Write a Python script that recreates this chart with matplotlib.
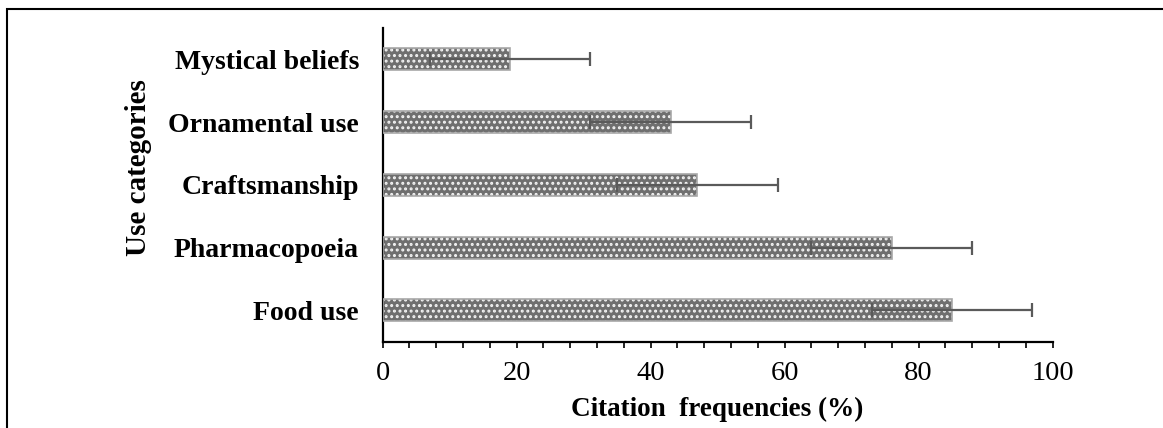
import matplotlib
matplotlib.use('Agg')
import matplotlib.pyplot as plt
from matplotlib.patches import Rectangle
import numpy as np

# data
categories = ['Food use', 'Pharmacopoeia', 'Craftsmanship', 'Ornamental use', 'Mystical beliefs']
freq = [85, 76, 47, 43, 19]
err = [12, 12, 12, 12, 12]

plt.rcParams['font.family'] = ['Liberation Serif', 'DejaVu Serif']
plt.rcParams['hatch.linewidth'] = 1.4

fig = plt.figure(figsize=(11.63, 4.28), dpi=100)
ax = fig.add_axes([0.329, 0.2017, 0.576, 0.733])

y = np.arange(len(categories))
ax.barh(y, freq, height=0.35, color='#6f6f6f', edgecolor='#f4f4f4', hatch='...',
        linewidth=0, zorder=2)
ax.barh(y, freq, height=0.35, facecolor='none', edgecolor='#a8a8a8', linewidth=1.2, zorder=3)
ax.errorbar(freq, y, xerr=err, fmt='none', ecolor='#5a5a5a', elinewidth=1.6,
            capsize=5, capthick=1.6, zorder=4)

ax.set_xlim(0, 100)
ax.set_ylim(-0.5, 4.5)
ax.set_xticks(np.arange(0, 101, 20))
ax.set_xticks(np.arange(0, 101, 4), minor=True)
ax.tick_params(axis='x', which='both', direction='out', length=4, width=1.2,
               labelsize=20.5, pad=10)
ax.set_yticks(y)
ax.set_yticklabels(categories, fontsize=20, fontweight='bold')
ax.tick_params(axis='y', length=0, pad=17)

for s in ['top', 'right']:
    ax.spines[s].set_visible(False)
ax.spines['left'].set_linewidth(1.6)
ax.spines['bottom'].set_linewidth(1.6)

ax.set_xlabel('Citation  frequencies (%)', fontsize=19.5, fontweight='bold', labelpad=8)
fig.text(0.119, 0.609, 'Use categories', rotation=90, fontsize=21, fontweight='bold',
         ha='center', va='center')

# frame around the figure
fig.patches.append(Rectangle((7 / 1163, -0.1), 1.2, 1.1 - 9 / 428, transform=fig.transFigure,
                             fill=False, edgecolor='black', linewidth=1.5))

fig.savefig('out.png', dpi=100)
